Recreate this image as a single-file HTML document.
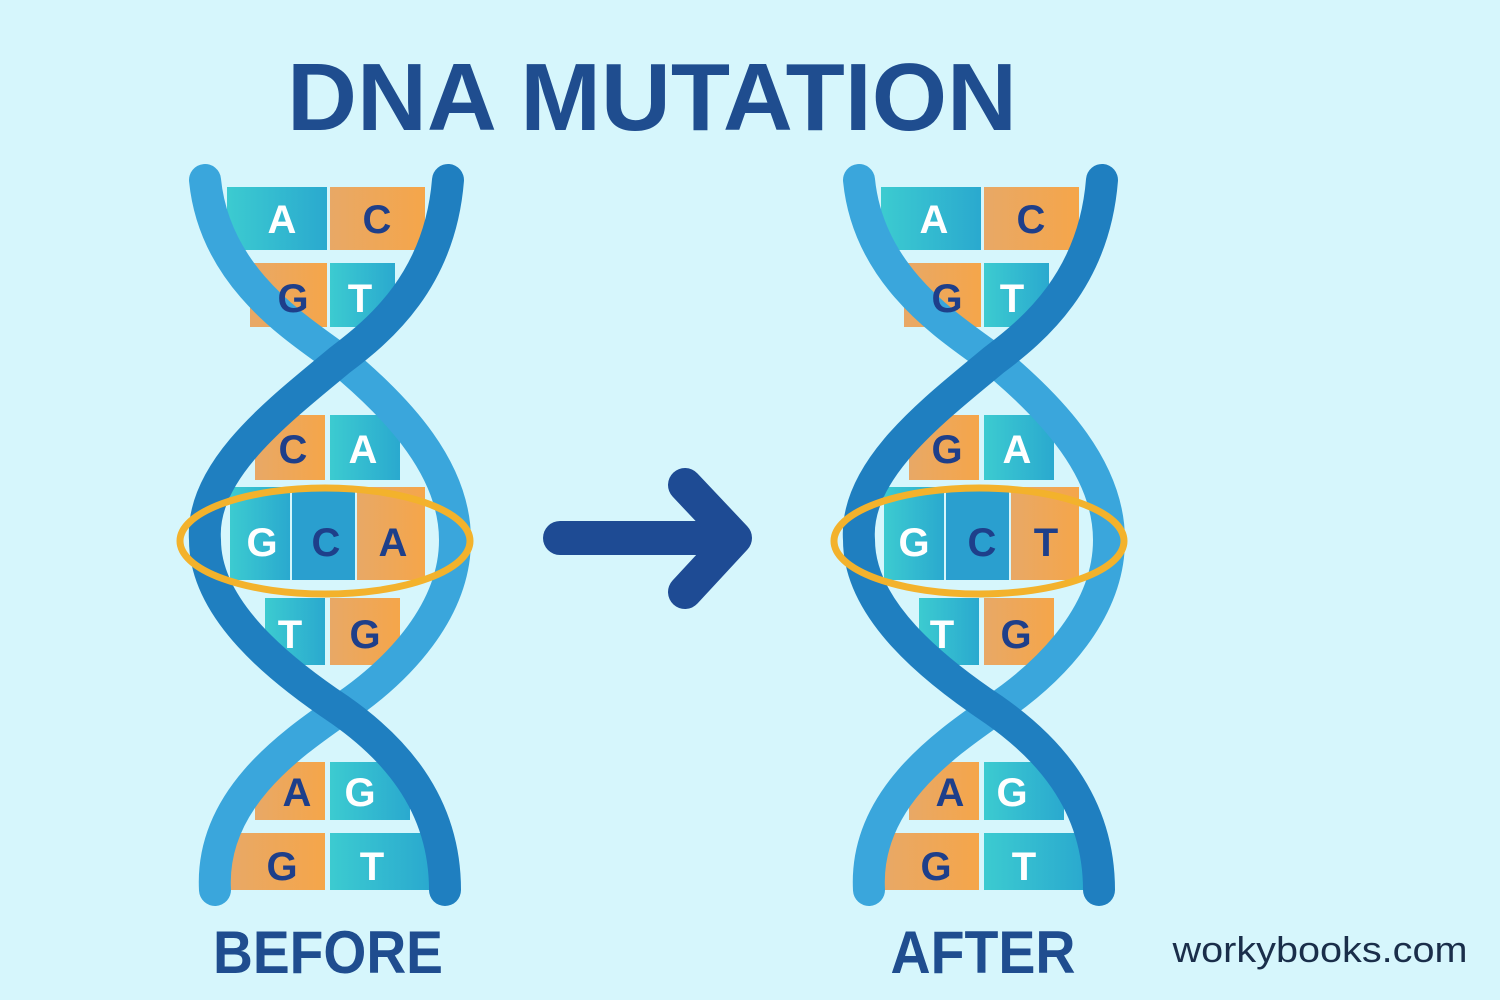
<!DOCTYPE html>
<html><head><meta charset="utf-8"><style>
html,body{margin:0;padding:0;background:#d6f6fc;}
svg{display:block}
</style></head><body>
<svg width="1500" height="1000" viewBox="0 0 1500 1000" xmlns="http://www.w3.org/2000/svg">
<defs>
<linearGradient id="teal" x1="0" x2="1"><stop offset="0" stop-color="#3ccbd0"/><stop offset="1" stop-color="#2aa9cf"/></linearGradient>
<linearGradient id="org" x1="0" x2="1"><stop offset="0" stop-color="#e8a866"/><stop offset="1" stop-color="#f5a64a"/></linearGradient>
<g id="strands">
<path d="M205,180 C215,280 300,330 340,360 C400,410 455,470 455,540 C455,610 400,670 340,710 C290,745 210,800 215,890" fill="none" stroke="#3aa6dc" stroke-width="32" stroke-linecap="round"/>
<path d="M448,180 C440,280 380,330 340,360 C280,410 200,470 205,540 C205,610 280,670 340,710 C390,745 445,800 445,890" fill="none" stroke="#1f7fc0" stroke-width="32" stroke-linecap="round"/>
</g>
</defs>
<rect width="1500" height="1000" fill="#d6f6fc"/>
<text x="652" y="130" text-anchor="middle" font-family="Liberation Sans, sans-serif" font-weight="bold" font-size="96" fill="#1f4d8f" textLength="730" lengthAdjust="spacingAndGlyphs">DNA MUTATION</text>

<g font-family="Liberation Sans, sans-serif" font-weight="bold" font-size="40" text-anchor="middle">
<!-- LEFT -->
<g>
<rect x="227" y="187" width="100" height="63" fill="url(#teal)"/><rect x="330" y="187" width="95" height="63" fill="url(#org)"/>
<rect x="250" y="263" width="77" height="64" fill="url(#org)"/><rect x="330" y="263" width="65" height="64" fill="url(#teal)"/>
<rect x="255" y="415" width="70" height="65" fill="url(#org)"/><rect x="330" y="415" width="70" height="65" fill="url(#teal)"/>
<rect x="230" y="487" width="60" height="93" fill="url(#teal)"/><rect x="292" y="487" width="63" height="93" fill="#2a9fcf"/><rect x="357" y="487" width="68" height="93" fill="url(#org)"/>
<rect x="265" y="598" width="60" height="67" fill="url(#teal)"/><rect x="330" y="598" width="70" height="67" fill="url(#org)"/>
<rect x="255" y="762" width="70" height="58" fill="url(#org)"/><rect x="330" y="762" width="80" height="58" fill="url(#teal)"/>
<rect x="230" y="833" width="95" height="57" fill="url(#org)"/><rect x="330" y="833" width="100" height="57" fill="url(#teal)"/>
<use href="#strands"/>
<text x="282" y="233" fill="#fff">A</text><text x="377" y="233" fill="#1e3f8a">C</text>
<text x="293" y="312" fill="#1e3f8a">G</text><text x="360" y="312" fill="#fff">T</text>
<text x="293" y="463" fill="#1e3f8a">C</text><text x="363" y="463" fill="#fff">A</text>
<text x="262" y="556" fill="#fff">G</text><text x="326" y="556" fill="#1e3f8a">C</text><text x="393" y="556" fill="#1e3f8a">A</text>
<text x="290" y="648" fill="#fff">T</text><text x="365" y="648" fill="#1e3f8a">G</text>
<text x="297" y="806" fill="#1e3f8a">A</text><text x="360" y="806" fill="#fff">G</text>
<text x="282" y="880" fill="#1e3f8a">G</text><text x="372" y="880" fill="#fff">T</text>
<ellipse cx="325" cy="541" rx="145" ry="53" fill="none" stroke="#f3b22c" stroke-width="7"/>
</g>
<!-- RIGHT -->
<g transform="translate(654,0)">
<rect x="227" y="187" width="100" height="63" fill="url(#teal)"/><rect x="330" y="187" width="95" height="63" fill="url(#org)"/>
<rect x="250" y="263" width="77" height="64" fill="url(#org)"/><rect x="330" y="263" width="65" height="64" fill="url(#teal)"/>
<rect x="255" y="415" width="70" height="65" fill="url(#org)"/><rect x="330" y="415" width="70" height="65" fill="url(#teal)"/>
<rect x="230" y="487" width="60" height="93" fill="url(#teal)"/><rect x="292" y="487" width="63" height="93" fill="#2a9fcf"/><rect x="357" y="487" width="68" height="93" fill="url(#org)"/>
<rect x="265" y="598" width="60" height="67" fill="url(#teal)"/><rect x="330" y="598" width="70" height="67" fill="url(#org)"/>
<rect x="255" y="762" width="70" height="58" fill="url(#org)"/><rect x="330" y="762" width="80" height="58" fill="url(#teal)"/>
<rect x="230" y="833" width="95" height="57" fill="url(#org)"/><rect x="330" y="833" width="100" height="57" fill="url(#teal)"/>
<use href="#strands"/>
<text x="280" y="233" fill="#fff">A</text><text x="377" y="233" fill="#1e3f8a">C</text>
<text x="293" y="312" fill="#1e3f8a">G</text><text x="358" y="312" fill="#fff">T</text>
<text x="293" y="463" fill="#1e3f8a">G</text><text x="363" y="463" fill="#fff">A</text>
<text x="260" y="556" fill="#fff">G</text><text x="328" y="556" fill="#1e3f8a">C</text><text x="392" y="556" fill="#1e3f8a">T</text>
<text x="288" y="648" fill="#fff">T</text><text x="362" y="648" fill="#1e3f8a">G</text>
<text x="296" y="806" fill="#1e3f8a">A</text><text x="358" y="806" fill="#fff">G</text>
<text x="282" y="880" fill="#1e3f8a">G</text><text x="370" y="880" fill="#fff">T</text>
<ellipse cx="325" cy="541" rx="145" ry="53" fill="none" stroke="#f3b22c" stroke-width="7"/>
</g>
</g>

<!-- arrow -->
<line x1="560" y1="538" x2="725" y2="538" stroke="#1e4b94" stroke-width="34" stroke-linecap="round"/>
<polyline points="685,485 735,538 685,592" fill="none" stroke="#1e4b94" stroke-width="34" stroke-linecap="round" stroke-linejoin="round"/>

<text x="328" y="973" text-anchor="middle" font-family="Liberation Sans, sans-serif" font-weight="bold" font-size="60" fill="#1f4d8f" textLength="230" lengthAdjust="spacingAndGlyphs">BEFORE</text>
<text x="983" y="973" text-anchor="middle" font-family="Liberation Sans, sans-serif" font-weight="bold" font-size="60" fill="#1f4d8f" textLength="185" lengthAdjust="spacingAndGlyphs">AFTER</text>
<text x="1320" y="962" text-anchor="middle" font-family="Liberation Sans, sans-serif" font-size="36" fill="#1a2e4a" textLength="295" lengthAdjust="spacingAndGlyphs">workybooks.com</text>
</svg>
</body></html>
